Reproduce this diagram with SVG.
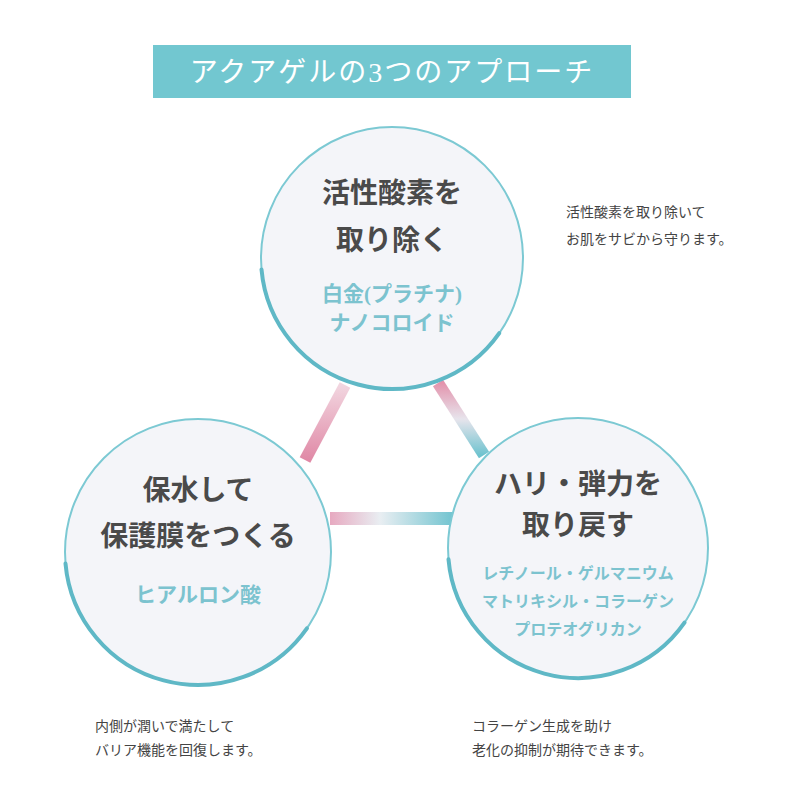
<svg xmlns="http://www.w3.org/2000/svg" width="800" height="800" viewBox="0 0 800 800">
<defs>
<style>
.t{font-family:"Liberation Serif","Noto Sans CJK JP",serif;}
.h{font-family:"Liberation Serif","Noto Sans CJK JP",serif;font-size:28px;fill:#4a4a4a;text-anchor:middle;font-weight:bold}
.s{font-family:"Liberation Serif","Noto Sans CJK JP",serif;font-size:21px;fill:#7cc3cf;text-anchor:middle;font-weight:bold}
.s2{font-family:"Liberation Serif","Noto Sans CJK JP",serif;font-size:16px;fill:#7cc3cf;text-anchor:middle;font-weight:bold}
.n{font-family:"Noto Sans CJK JP",sans-serif;font-size:14px;fill:#444}
.c{fill:#f4f5f9;stroke:#7cc9d3;stroke-width:2}
.sh{fill:none;stroke:#5fb8c6;stroke-width:4;stroke-linecap:round}
</style>
<linearGradient id="gl" x1="0" y1="0" x2="0" y2="1"><stop offset="0" stop-color="#f2d6e0"/><stop offset="1" stop-color="#e089a6"/></linearGradient>
<linearGradient id="gr" x1="0" y1="0" x2="0" y2="1"><stop offset="0" stop-color="#e394ad"/><stop offset="0.5" stop-color="#e7e4ec"/><stop offset="1" stop-color="#6fc3cf"/></linearGradient>
<linearGradient id="gb" x1="0" y1="0" x2="1" y2="0"><stop offset="0" stop-color="#e7a9c0"/><stop offset="0.4" stop-color="#e9eef2"/><stop offset="1" stop-color="#6fc3cf"/></linearGradient>
</defs>
<rect width="800" height="800" fill="#fff"/>
<g id="title"><rect x="153" y="45" width="478" height="53" fill="#72c7d0"/>
<text x="392" y="82" class="t" font-size="28" fill="#fff" text-anchor="middle" letter-spacing="2">アクアゲルの3つのアプローチ</text></g>
<g id="connectors">
<line x1="345" y1="385" x2="305" y2="460" stroke="url(#gl)" stroke-width="12"/>
<line x1="438" y1="383" x2="484" y2="455" stroke="url(#gr)" stroke-width="12"/>
<rect x="330" y="512" width="125" height="13" fill="url(#gb)"/>
</g>
<g id="node-top">
<circle class="c" cx="392" cy="258" r="131"/>
<path class="sh" d="M261.5 269.4 A131 131 0 0 0 499.3 333.1"/>
<text class="h" x="392" y="203">活性酸素を</text>
<text class="h" x="392" y="250">取り除く</text>
<text class="s" x="392" y="301">白金(プラチナ)</text>
<text class="s" x="392" y="330">ナノコロイド</text>
</g>
<g id="node-left">
<circle class="c" cx="198" cy="552" r="133"/>
<path class="sh" d="M65.5 563.6 A133 133 0 0 0 306.9 628.3"/>
<text class="h" x="198" y="500">保水して</text>
<text class="h" x="198" y="546">保護膜をつくる</text>
<text class="s" x="198" y="602">ヒアルロン酸</text>
</g>
<g id="node-right">
<circle class="c" cx="578" cy="548" r="130"/>
<path class="sh" d="M448.5 559.3 A130 130 0 0 0 684.5 622.6"/>
<text class="h" x="578" y="494">ハリ・弾力を</text>
<text class="h" x="578" y="535">取り戻す</text>
<text class="s2" x="578" y="579">レチノール・ゲルマニウム</text>
<text class="s2" x="578" y="607">マトリキシル・コラーゲン</text>
<text class="s2" x="578" y="635">プロテオグリカン</text>
</g>
<g id="notes">
<text class="n" x="566" y="217">活性酸素を取り除いて</text>
<text class="n" x="566" y="244">お肌をサビから守ります。</text>
<text class="n" x="95" y="731">内側が潤いで満たして</text>
<text class="n" x="95" y="755">バリア機能を回復します。</text>
<text class="n" x="472" y="731">コラーゲン生成を助け</text>
<text class="n" x="472" y="755">老化の抑制が期待できます。</text>
</g>
</svg>
